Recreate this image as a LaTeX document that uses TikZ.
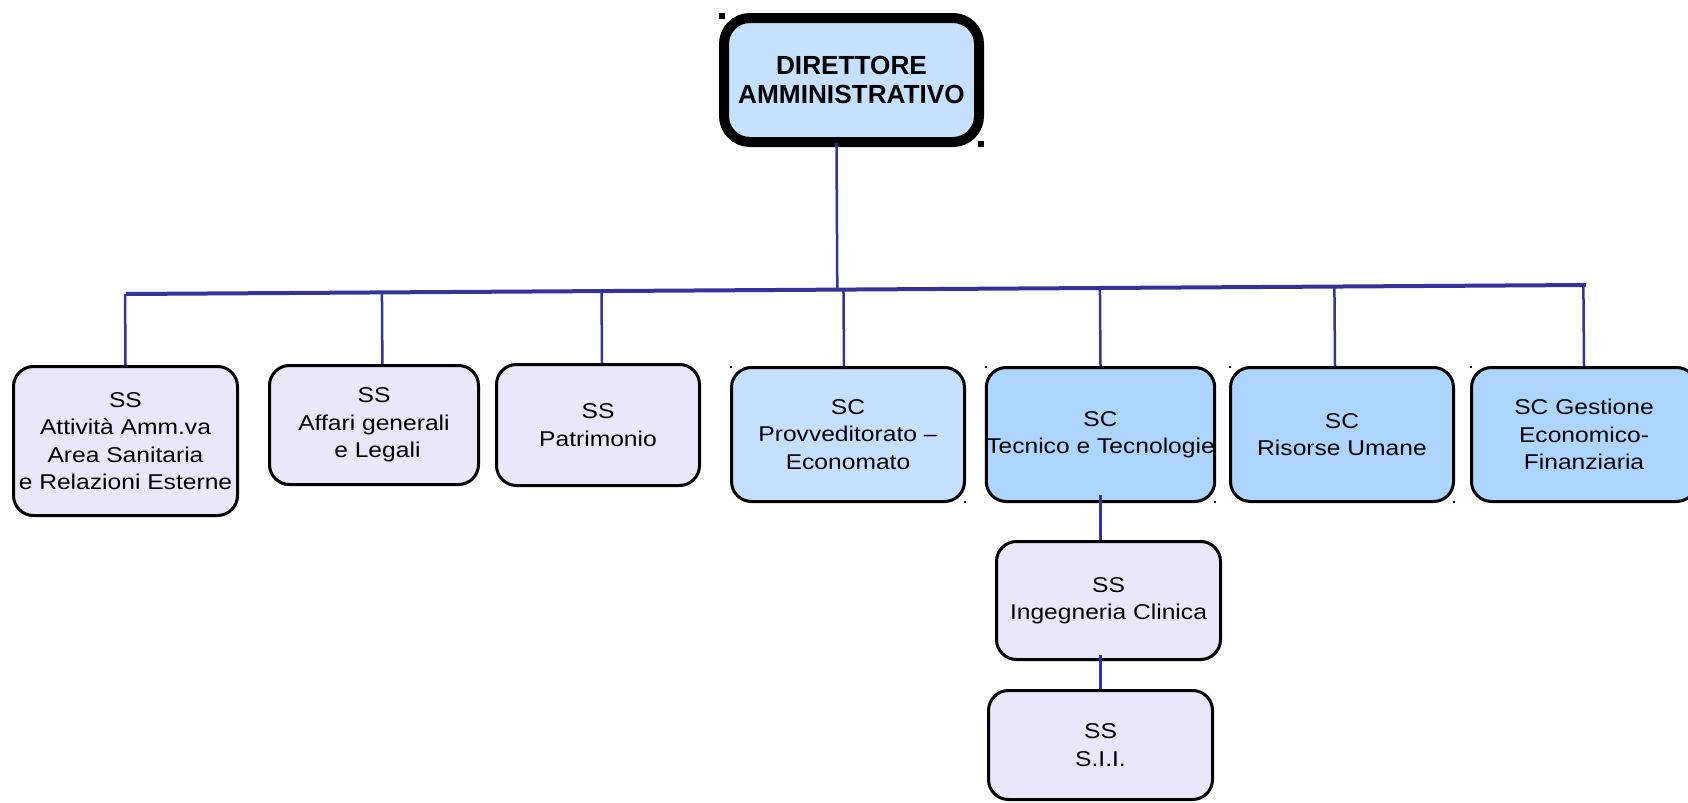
\documentclass[tikz,border=0pt]{standalone}
\usepackage{fontspec}
\setmainfont{Liberation Sans}
\newfontfamily\boxfont[FakeStretch=1.15]{Liberation Sans}
\usetikzlibrary{calc}
\definecolor{orgline}{RGB}{51,51,153}
\definecolor{dirfill}{RGB}{198,225,255}
\definecolor{scfill}{RGB}{172,213,255}
\definecolor{ssfill}{RGB}{232,232,250}
\tikzset{
  every org box/.style={draw,line width=1.5pt,rounded corners=10pt,align=center,inner sep=0pt,
    font=\boxfont\fontsize{10.7}{13.75}\selectfont},
  dir box/.style={draw,line width=5pt,rounded corners=13pt,fill=dirfill,align=center,inner sep=0pt,
    font=\bfseries\fontsize{13.1}{14.5}\selectfont},
  ss box/.style={every org box,fill=ssfill},
  sc box/.style={every org box,fill=scfill},
  link/.style={draw=orgline,line width=1.25pt},
}
\begin{document}
\begin{tikzpicture}[x=0.5pt,y=-0.5pt]
\useasboundingbox (0,0) rectangle (1688,803);
% backbone
\coordinate (hl-w) at (126,294);
\coordinate (hl-e) at (1586,285);
\draw[link,line width=2pt] (hl-w) -- (hl-e);

\node[dir box,minimum width=127.5pt,minimum height=62pt] (dir) at (851.5,80) {DIRETTORE\\AMMINISTRATIVO};

\node[ss box,minimum width=112pt,minimum height=74.5pt] (ssamm) at (125.5,441)
  {SS\\Attività Amm.va\\Area Sanitaria\\e Relazioni Esterne};
\node[ss box,minimum width=104.5pt,minimum height=59.5pt] (ssaff) at (374,425)
  {SS\\Affari generali\\\ e Legali};
\node[ss box,minimum width=101.5pt,minimum height=60.5pt] (sspat) at (598,425)
  {SS\\Patrimonio};
\node[every org box,fill=dirfill,minimum width=116.5pt,minimum height=67pt] (scpro) at (848,434.5)
  {SC\\Provveditorato –\\Economato};
\node[sc box,minimum width=112pt,minimum height=67pt] (sctec) at (1100.5,434.5)
  {SC\\Tecnico e Tecnologie};
\node[sc box,minimum width=111.5pt,minimum height=67pt] (scris) at (1342,434.5)
  {SC\\Risorse Umane};
\node[sc box,minimum width=112.5pt,minimum height=67pt] (scgef) at (1584,434.5)
  {SC Gestione\\Economico-\\Finanziaria};
\node[ss box,minimum width=112pt,minimum height=59pt] (ssing) at (1108.5,600.5)
  {SS\\Ingegneria Clinica};
\node[ss box,minimum width=112pt,minimum height=54.5pt] (sssii) at (1100.5,745)
  {SS\\S.I.I.};

% connectors
\draw[link,shorten <=-2pt] ([xshift=-7.5pt]dir.south) -- ($(hl-w)!([xshift=-7.5pt]dir.south)!(hl-e)$);
\foreach \b/\dx in {ssamm/0,ssaff/4.2,sspat/2,scpro/-2,sctec/0,scris/-3.5,scgef/0}
  \draw[link] ($(hl-w)!([xshift=\dx pt]\b.north)!(hl-e)$) -- ([xshift=\dx pt]\b.north);
\draw[link,shorten <=-4pt] (sctec.south) -- (sctec.south |- ssing.north);
\draw[link,shorten <=-3pt] (sssii.north |- ssing.south) -- (sssii.north);

% corner marks
\fill (dir.north west) rectangle ++(3pt,-3pt);
\fill (dir.south east) rectangle ++(-3pt,3pt);
\foreach \b in {scpro,sctec,scris,scgef}
{
  \fill (\b.north west) rectangle ++(1.2pt,-1.2pt);
  \fill (\b.south east) rectangle ++(-1.2pt,1.2pt);
}
\end{tikzpicture}
\end{document}
